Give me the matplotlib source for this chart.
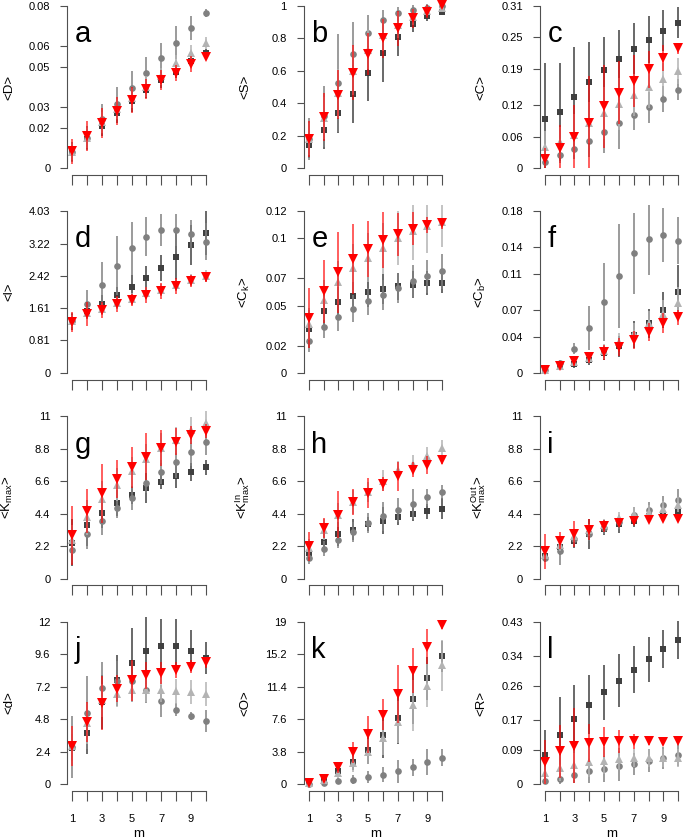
import numpy as np
import matplotlib
matplotlib.use('Agg')
import matplotlib.pyplot as plt

plt.rcParams['font.family'] = ['Liberation Sans', 'DejaVu Sans']
plt.rcParams['mathtext.fontset'] = 'custom'
plt.rcParams['mathtext.rm'] = 'Liberation Sans'
plt.rcParams['mathtext.it'] = 'Liberation Sans:italic'
plt.rcParams['mathtext.default'] = 'regular'

m = np.arange(1, 11)
xtick_labels = ['1', '', '3', '', '5', '', '7', '', '9', '']

# series order: sq (dark squares), ci (grey circles), tr (light triangles), rd (red triangles)
a_sq = [0.0074, 0.0143, 0.0209, 0.0271, 0.0329, 0.0386, 0.0435, 0.0476, 0.0529, 0.0570]
a_sq_err = [0.004, 0.005, 0.005, 0.005, 0.005, 0.004, 0.004, 0.003, 0.003, 0.002]
a_ci = [0.0080, 0.0148, 0.0243, 0.0317, 0.0394, 0.0471, 0.0545, 0.0619, 0.0693, 0.0767]
a_ci_err = [0.005, 0.006, 0.0074, 0.0082, 0.0085, 0.0076, 0.0074, 0.008, 0.006, 0.002]
a_tr = [0.0078, 0.015, 0.0225, 0.029, 0.0345, 0.0402, 0.0452, 0.0517, 0.0567, 0.0616]
a_tr_err = [0.004, 0.005, 0.005, 0.005, 0.005, 0.005, 0.004, 0.004, 0.004, 0.003]
a_rd = [0.0082, 0.0156, 0.0222, 0.0283, 0.0337, 0.0389, 0.0435, 0.0471, 0.0514, 0.0550]
a_rd_err = [0.006, 0.0074, 0.0074, 0.007, 0.0065, 0.005, 0.005, 0.004, 0.004, 0.0015]

b_sq = [0.144, 0.236, 0.339, 0.458, 0.585, 0.708, 0.811, 0.889, 0.938, 0.965]
b_sq_err = [0.08, 0.12, 0.12, 0.18, 0.17, 0.18, 0.12, 0.05, 0.03, 0.02]
b_ci = [0.18, 0.318, 0.524, 0.704, 0.836, 0.914, 0.955, 0.975, 0.99, 1.0]
b_ci_err = [0.13, 0.19, 0.3, 0.2, 0.11, 0.06, 0.04, 0.03, 0.02, 0.01]
b_tr = [0.18, 0.31, 0.46, 0.60, 0.73, 0.82, 0.88, 0.93, 0.97, 0.99]
b_tr_err = [0.1, 0.13, 0.15, 0.15, 0.12, 0.1, 0.08, 0.05, 0.03, 0.02]
b_rd = [0.179, 0.314, 0.452, 0.589, 0.704, 0.80, 0.862, 0.924, 0.965, 1.006]
b_rd_err = [0.11, 0.15, 0.15, 0.17, 0.13, 0.12, 0.11, 0.06, 0.04, 0.02]

c_sq = [0.094, 0.107, 0.136, 0.164, 0.188, 0.208, 0.228, 0.245, 0.263, 0.278]
c_sq_err = [0.106, 0.094, 0.096, 0.078, 0.063, 0.057, 0.049, 0.045, 0.04, 0.03]
c_ci = [0.011, 0.024, 0.037, 0.052, 0.069, 0.086, 0.102, 0.116, 0.132, 0.15]
c_ci_err = [0.01, 0.015, 0.02, 0.03, 0.04, 0.05, 0.03, 0.03, 0.025, 0.02]
c_tr = [0.041, 0.049, 0.064, 0.087, 0.105, 0.123, 0.14, 0.155, 0.17, 0.185]
c_tr_err = [0.03, 0.03, 0.04, 0.04, 0.05, 0.05, 0.04, 0.04, 0.03, 0.025]
c_rd = [0.018, 0.038, 0.06, 0.087, 0.118, 0.144, 0.167, 0.189, 0.21, 0.229]
c_rd_err = [0.02, 0.045, 0.061, 0.09, 0.08, 0.06, 0.05, 0.035, 0.025, 0.01]

d_sq = [1.28, 1.55, 1.71, 1.93, 2.13, 2.36, 2.61, 2.88, 3.19, 3.48]
d_sq_err = [0.2, 0.2, 0.23, 0.22, 0.31, 0.29, 0.33, 0.6, 0.5, 0.55]
d_ci = [1.30, 1.71, 2.19, 2.67, 3.10, 3.39, 3.56, 3.56, 3.45, 3.27]
d_ci_err = [0.2, 0.35, 0.56, 0.73, 0.66, 0.48, 0.4, 0.4, 0.35, 0.45]
d_tr = [1.30, 1.50, 1.60, 1.74, 1.85, 1.98, 2.07, 2.20, 2.31, 2.41]
d_tr_err = [0.15, 0.15, 0.15, 0.15, 0.15, 0.15, 0.15, 0.15, 0.15, 0.15]
d_rd = [1.28, 1.47, 1.57, 1.71, 1.82, 1.95, 2.04, 2.17, 2.28, 2.38]
d_rd_err = [0.25, 0.3, 0.2, 0.2, 0.15, 0.2, 0.2, 0.2, 0.15, 0.12]

e_sq = [0.0328, 0.0456, 0.0525, 0.0567, 0.0599, 0.0623, 0.0641, 0.0653, 0.0665, 0.067]
e_sq_err = [0.014, 0.012, 0.011, 0.011, 0.011, 0.011, 0.01, 0.01, 0.009, 0.008]
e_ci = [0.0234, 0.0338, 0.0412, 0.0476, 0.053, 0.0579, 0.0628, 0.0678, 0.0715, 0.0752]
e_ci_err = [0.008, 0.008, 0.01, 0.01, 0.01, 0.011, 0.011, 0.012, 0.012, 0.013]
e_tr = [0.0362, 0.0542, 0.0673, 0.0776, 0.0855, 0.0924, 0.0998, 0.105, 0.109, 0.1116]
e_tr_err = [0.012, 0.015, 0.016, 0.018, 0.018, 0.019, 0.02, 0.021, 0.02, 0.018]
e_rd = [0.0407, 0.0604, 0.0747, 0.0845, 0.0919, 0.0986, 0.1028, 0.107, 0.1097, 0.111]
e_rd_err = [0.022, 0.023, 0.03, 0.026, 0.021, 0.021, 0.016, 0.012, 0.006, 0.004]

f_sq = [0.0037, 0.0063, 0.010, 0.0148, 0.022, 0.0296, 0.0425, 0.0554, 0.070, 0.0898]
f_sq_err = [0.002, 0.003, 0.004, 0.006, 0.008, 0.012, 0.015, 0.016, 0.02, 0.03]
f_ci = [0.0037, 0.011, 0.027, 0.050, 0.0787, 0.108, 0.133, 0.149, 0.153, 0.147]
f_ci_err = [0.002, 0.003, 0.006, 0.024, 0.043, 0.058, 0.045, 0.04, 0.03, 0.026]
f_tr = [0.0037, 0.0074, 0.012, 0.017, 0.024, 0.035, 0.044, 0.0554, 0.066, 0.0776]
f_tr_err = [0.002, 0.003, 0.004, 0.006, 0.008, 0.01, 0.012, 0.014, 0.015, 0.018]
f_rd = [0.0037, 0.0074, 0.013, 0.0174, 0.023, 0.0285, 0.037, 0.0455, 0.0554, 0.0617]
f_rd_err = [0.002, 0.003, 0.005, 0.006, 0.008, 0.01, 0.01, 0.01, 0.011, 0.008]

g_sq = [2.42, 3.61, 4.45, 5.12, 5.64, 6.14, 6.55, 6.93, 7.22, 7.54]
g_sq_err = [1.6, 1.4, 1.0, 0.9, 0.6, 1.0, 0.5, 0.8, 0.6, 0.5]
g_ci = [1.96, 3.02, 3.93, 4.79, 5.45, 6.48, 7.22, 7.90, 8.62, 9.30]
g_ci_err = [0.9, 1.0, 1.0, 0.7, 0.8, 0.7, 0.8, 1.1, 1.0, 0.9]
g_tr = [2.64, 4.15, 5.42, 6.37, 7.27, 8.13, 8.85, 9.41, 10.09, 10.54]
g_tr_err = [1.0, 1.2, 1.2, 1.1, 1.0, 1.0, 1.0, 0.9, 0.9, 0.8]
g_rd = [2.93, 4.56, 5.80, 6.77, 7.54, 8.28, 8.85, 9.30, 9.75, 10.02]
g_rd_err = [2.0, 1.5, 2.0, 1.3, 1.4, 1.6, 1.2, 0.9, 0.6, 0.5]

h_sq = [1.74, 2.48, 3.02, 3.32, 3.70, 3.93, 4.20, 4.38, 4.56, 4.74]
h_sq_err = [0.5, 0.6, 0.8, 0.7, 0.5, 0.9, 0.6, 0.5, 0.5, 0.7]
h_ci = [1.40, 2.03, 2.64, 3.16, 3.77, 4.22, 4.65, 5.06, 5.51, 5.87]
h_ci_err = [0.4, 0.5, 0.6, 0.7, 0.7, 1.0, 0.8, 1.0, 0.6, 0.5]
h_tr = [2.08, 3.32, 4.33, 5.19, 5.87, 6.64, 7.38, 7.77, 8.35, 8.89]
h_tr_err = [0.6, 0.7, 0.8, 0.8, 0.7, 0.7, 0.6, 0.6, 0.6, 0.5]
h_rd = [2.19, 3.43, 4.33, 5.19, 5.80, 6.41, 6.93, 7.38, 7.72, 8.06]
h_rd_err = [1.0, 0.7, 1.6, 0.9, 1.0, 0.5, 1.0, 0.5, 0.6, 0.3]

i_sq = [1.51, 2.12, 2.57, 3.02, 3.36, 3.70, 3.93, 4.22, 4.38, 4.56]
i_sq_err = [0.3, 0.5, 0.5, 1.0, 0.4, 0.6, 0.4, 0.4, 0.4, 0.4]
i_ci = [1.40, 1.90, 2.71, 3.05, 3.43, 3.84, 4.33, 4.67, 5.01, 5.35]
i_ci_err = [0.3, 1.0, 0.5, 0.5, 0.4, 0.5, 0.5, 0.5, 0.6, 0.7]
i_tr = [1.63, 2.30, 2.87, 3.32, 3.66, 4.11, 4.38, 4.51, 4.74, 5.01]
i_tr_err = [0.3, 0.4, 0.4, 0.4, 0.4, 0.4, 0.5, 0.5, 0.5, 0.5]
i_rd = [1.85, 2.57, 3.02, 3.32, 3.54, 3.77, 3.93, 4.00, 4.06, 4.06]
i_rd_err = [1.2, 0.6, 0.9, 0.7, 0.4, 0.2, 0.15, 0.1, 0.1, 0.1]

j_sq = [2.70, 3.75, 6.08, 7.67, 8.97, 9.88, 10.2, 10.2, 9.88, 9.34]
j_sq_err = [1.0, 1.5, 2.0, 1.9, 2.6, 2.5, 2.0, 2.0, 1.5, 1.2]
j_ci = [2.75, 5.29, 7.11, 7.6, 7.6, 6.99, 6.13, 5.51, 5.05, 4.68]
j_ci_err = [2.3, 2.7, 1.9, 1.5, 1.5, 1.0, 1.2, 0.5, 0.3, 0.8]
j_tr = [2.8, 4.5, 6.2, 6.69, 6.94, 6.94, 6.99, 6.86, 6.81, 6.69]
j_tr_err = [1.5, 1.5, 1.2, 1.0, 0.9, 0.9, 0.9, 0.9, 0.9, 0.9]
j_rd = [2.82, 4.61, 6.03, 7.06, 7.67, 8.04, 8.21, 8.46, 8.70, 9.02]
j_rd_err = [1.5, 1.5, 2.0, 1.0, 1.5, 1.0, 0.8, 0.6, 0.5, 0.4]

k_sq = [0.1, 0.3, 1.47, 2.64, 3.99, 5.74, 7.75, 10.0, 12.4, 14.96]
k_sq_err = [0.1, 0.3, 0.6, 1.0, 1.6, 2.7, 3.0, 3.0, 2.5, 1.8]
k_ci = [0.05, 0.12, 0.31, 0.5, 0.78, 1.09, 1.47, 1.94, 2.56, 3.1]
k_ci_err = [0.1, 0.2, 0.4, 0.5, 0.7, 0.9, 1.4, 1.0, 1.5, 1.0]
k_tr = [0.1, 0.5, 1.28, 2.44, 3.80, 5.35, 7.29, 9.22, 11.55, 13.9]
k_tr_err = [0.1, 0.3, 0.6, 1.0, 1.5, 2.0, 2.5, 3.0, 2.5, 3.0]
k_rd = [0.1, 0.62, 1.94, 3.72, 5.81, 8.14, 10.58, 13.3, 16.12, 18.7]
k_rd_err = [0.1, 0.4, 0.7, 1.2, 2.2, 1.8, 3.4, 2.6, 2.0, 0.5]

l_sq = [0.076, 0.131, 0.172, 0.210, 0.243, 0.274, 0.303, 0.331, 0.359, 0.382]
l_sq_err = [0.068, 0.1, 0.09, 0.078, 0.074, 0.07, 0.062, 0.06, 0.05, 0.05]
l_ci = [0.007, 0.014, 0.023, 0.034, 0.04, 0.047, 0.053, 0.062, 0.069, 0.078]
l_ci_err = [0.01, 0.015, 0.02, 0.03, 0.035, 0.04, 0.03, 0.03, 0.03, 0.03]
l_tr = [0.029, 0.042, 0.051, 0.058, 0.062, 0.066, 0.069, 0.069, 0.069, 0.069]
l_tr_err = [0.03, 0.035, 0.04, 0.04, 0.035, 0.03, 0.025, 0.025, 0.025, 0.025]
l_rd = [0.058, 0.087, 0.102, 0.109, 0.111, 0.113, 0.113, 0.113, 0.111, 0.113]
l_rd_err = [0.06, 0.07, 0.1, 0.05, 0.04, 0.03, 0.02, 0.01, 0.005, 0.005]

yticks = {
    'a': [0, 0.02, 0.03, 0.05, 0.06, 0.08],
    'b': [0, 0.2, 0.4, 0.6, 0.8, 1],
    'c': [0, 0.06, 0.12, 0.19, 0.25, 0.31],
    'd': [0, 0.81, 1.61, 2.42, 3.22, 4.03],
    'e': [0, 0.02, 0.05, 0.07, 0.1, 0.12],
    'f': [0, 0.04, 0.07, 0.11, 0.14, 0.18],
    'g': [0, 2.2, 4.4, 6.6, 8.8, 11],
    'h': [0, 2.2, 4.4, 6.6, 8.8, 11],
    'i': [0, 2.2, 4.4, 6.6, 8.8, 11],
    'j': [0, 2.4, 4.8, 7.2, 9.6, 12],
    'k': [0, 3.8, 7.6, 11.4, 15.2, 19],
    'l': [0, 0.09, 0.17, 0.26, 0.34, 0.43],
}
ylabels = {
    'a': '<D>', 'b': '<S>', 'c': '<C>', 'd': '<l>',
    'e': '<C$_k$>', 'f': '<C$_b$>', 'g': '<K$_{max}$>',
    'h': '<K$^{In}_{max}$>', 'i': '<K$^{Out}_{max}$>',
    'j': '<d>', 'k': '<O>', 'l': '<R>',
}

panels = {
    'a': [(a_sq, a_sq_err), (a_ci, a_ci_err), (a_tr, a_tr_err), (a_rd, a_rd_err)],
    'b': [(b_sq, b_sq_err), (b_ci, b_ci_err), (b_tr, b_tr_err), (b_rd, b_rd_err)],
    'c': [(c_sq, c_sq_err), (c_ci, c_ci_err), (c_tr, c_tr_err), (c_rd, c_rd_err)],
    'd': [(d_sq, d_sq_err), (d_ci, d_ci_err), (d_tr, d_tr_err), (d_rd, d_rd_err)],
    'e': [(e_sq, e_sq_err), (e_ci, e_ci_err), (e_tr, e_tr_err), (e_rd, e_rd_err)],
    'f': [(f_sq, f_sq_err), (f_ci, f_ci_err), (f_tr, f_tr_err), (f_rd, f_rd_err)],
    'g': [(g_sq, g_sq_err), (g_ci, g_ci_err), (g_tr, g_tr_err), (g_rd, g_rd_err)],
    'h': [(h_sq, h_sq_err), (h_ci, h_ci_err), (h_tr, h_tr_err), (h_rd, h_rd_err)],
    'i': [(i_sq, i_sq_err), (i_ci, i_ci_err), (i_tr, i_tr_err), (i_rd, i_rd_err)],
    'j': [(j_sq, j_sq_err), (j_ci, j_ci_err), (j_tr, j_tr_err), (j_rd, j_rd_err)],
    'k': [(k_sq, k_sq_err), (k_ci, k_ci_err), (k_tr, k_tr_err), (k_rd, k_rd_err)],
    'l': [(l_sq, l_sq_err), (l_ci, l_ci_err), (l_tr, l_tr_err), (l_rd, l_rd_err)],
}

# marker, colour, size(pt), bar colour, bar alpha
styles = [('s', '#404040', 4.6, '#404040', 1.0),
          ('o', '#808080', 4.8, '#808080', 1.0),
          ('^', '#b3b3b3', 6.2, '#b3b3b3', 1.0),
          ('v', '#ff0000', 6.6, '#ff0000', 0.8)]

W, H = 685, 839
fig = plt.figure(figsize=(W / 100, H / 100), dpi=100)

col_left = [67, 303.5, 539.5]
row_top = [-0.5, 204.5, 410, 615.5]
aw, ah = 144, 175

for idx, key in enumerate('abcdefghijkl'):
    r, c = divmod(idx, 3)
    ax = fig.add_axes([col_left[c] / W, 1 - (row_top[r] + ah) / H, aw / W, ah / H])
    ymax = yticks[key][-1]
    for (vals, errs), (mk, col, ms, bcol, balpha) in zip(panels[key], styles):
        vals = np.array(vals)
        errs = np.array(errs)
        ax.vlines(m, np.maximum(vals - errs, 0), vals + errs, colors=bcol,
                  alpha=balpha, lw=1.1)
        ax.plot(m, vals, mk, color=col, ms=ms, mew=0, clip_on=False)
    ax.set_xlim(0.64, 10.36)
    ax.set_ylim(-0.04 * ymax, 1.04 * ymax)
    for s in ['top', 'right']:
        ax.spines[s].set_visible(False)
    ax.spines['left'].set_bounds(0, ymax)
    ax.spines['bottom'].set_bounds(1, 10)
    for s in ['left', 'bottom']:
        ax.spines[s].set_color('#505050')
        ax.spines[s].set_linewidth(0.8)
    ax.set_yticks(yticks[key])
    ax.set_yticklabels(['%g' % t for t in yticks[key]])
    ax.set_xticks(m)
    if r == 3:
        ax.set_xticklabels(xtick_labels)
        ax.set_xlabel('m', fontsize=9.5)
        ax.xaxis.set_label_coords(0.5, -0.215)
    else:
        ax.set_xticklabels([])
    ax.tick_params(axis='y', length=5, width=0.8, color='#505050', pad=7, labelsize=8)
    ax.tick_params(axis='x', length=7, width=0.8, color='#505050', pad=10, labelsize=8)
    ax.set_ylabel(ylabels[key], fontsize=9.5)
    ax.yaxis.set_label_coords(-0.36, 0.5)
    ax.text(0.055, 0.755, key, transform=ax.transAxes, fontsize=21,
            ha='left', va='baseline')

fig.savefig('out.png', dpi=100)
